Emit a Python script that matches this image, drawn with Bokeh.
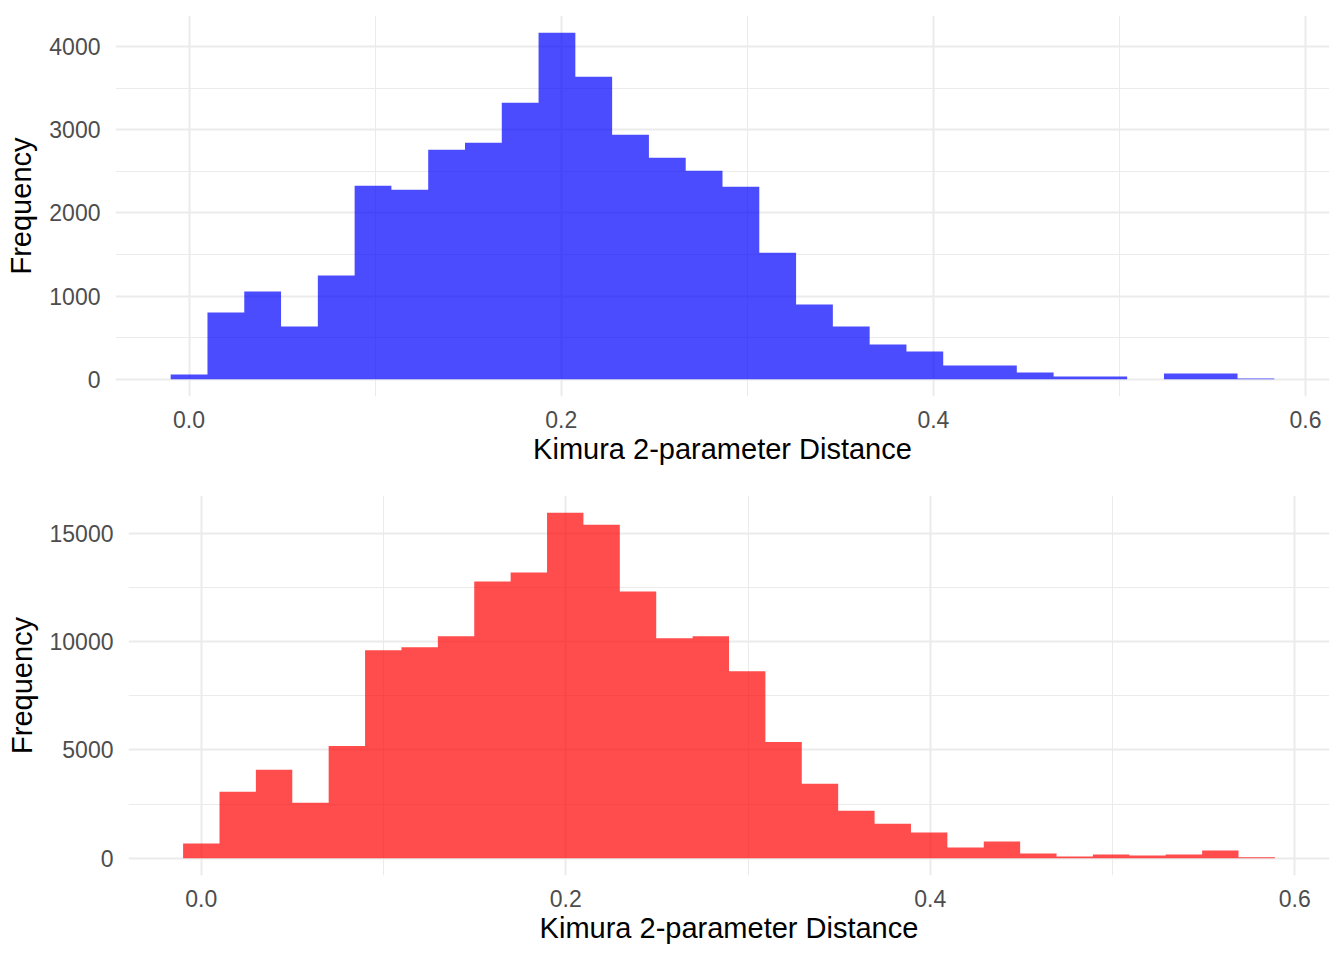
import numpy as np
from bokeh.plotting import figure
from bokeh.models import Range1d, FixedTicker, PrintfTickFormatter
from bokeh.embed import file_html
from bokeh.resources import INLINE

# ---- data ----
x_label = "Kimura 2-parameter Distance"
y_label = "Frequency"

top_bin_width = 0.01977
top_counts = [56, 801, 1053, 633, 1245, 2326, 2278, 2759, 2843, 3324,
              4164, 3636, 2940, 2663, 2507, 2314, 1521, 897, 633, 417,
              333, 164, 164, 80, 32, 32, 0, 68, 68, 8]

bottom_bin_width = 0.01997
bottom_counts = [676, 3065, 4076, 2560, 5180, 9592, 9730, 10236, 12763, 13176,
                 15933, 15380, 12305, 10143, 10236, 8626, 5363, 3433, 2192, 1595,
                 1181, 492, 768, 216, 78, 170, 124, 170, 354, 40]

x_ticks = [0.0, 0.2, 0.4, 0.6]
x_minor_ticks = [0.1, 0.3, 0.5]
top_y_ticks = [0, 1000, 2000, 3000, 4000]
top_y_minor_ticks = [500, 1500, 2500, 3500]
bottom_y_ticks = [0, 5000, 10000, 15000]
bottom_y_minor_ticks = [2500, 7500, 12500]

FONT = "Liberation Sans"
SHIFT = 25  # figure pulled left so that the empty part of the left border is off-page


def make_hist(counts, bin_width, color, y_ticks, y_minor, border_left,
              border_top, border_bottom, height):
    counts = np.asarray(counts, dtype=float)
    centers = np.arange(len(counts)) * bin_width
    left = centers - bin_width / 2
    right = centers + bin_width / 2
    lo, hi = left[0], right[-1]
    xpad = 0.05 * (hi - lo)
    ymax = counts.max()
    ypad = 0.05 * ymax

    p = figure(width=1361, height=height,
               x_range=Range1d(lo - xpad, hi + xpad),
               y_range=Range1d(-ypad, ymax + ypad),
               output_backend="svg", toolbar_location=None, title=None,
               min_border_left=border_left, min_border_right=7,
               min_border_top=border_top, min_border_bottom=border_bottom)
    p.styles = {"margin-left": f"-{SHIFT}px"}

    # histogram drawn as one stepped outline (no seams between bins)
    xs = [left[0]]
    ys = [0.0]
    for l, r, c in zip(left, right, counts):
        xs += [l, r]
        ys += [c, c]
    xs.append(right[-1])
    ys.append(0.0)
    p.patch(xs, ys, fill_color=color, fill_alpha=0.7, line_color=None)

    xt = FixedTicker(ticks=x_ticks, minor_ticks=x_minor_ticks)
    yt = FixedTicker(ticks=y_ticks, minor_ticks=y_minor)
    p.xaxis.ticker = xt
    p.yaxis.ticker = yt
    p.xgrid.ticker = xt
    p.ygrid.ticker = yt
    p.xaxis.formatter = PrintfTickFormatter(format="%.1f")
    p.yaxis.formatter = PrintfTickFormatter(format="%d")

    for g in (p.xgrid, p.ygrid):
        g.grid_line_color = "#EBEBEB"
        g.grid_line_width = 2
        g.minor_grid_line_color = "#EBEBEB"
        g.minor_grid_line_width = 1

    p.xaxis.axis_label = x_label
    p.yaxis.axis_label = y_label
    for ax in (p.xaxis, p.yaxis):
        ax.axis_line_color = None
        ax.major_tick_line_color = None
        ax.minor_tick_line_color = None
        ax.major_tick_out = 0
        ax.major_tick_in = 0
        ax.minor_tick_out = 0
        ax.minor_tick_in = 0
        ax.major_label_text_font = FONT
        ax.major_label_text_font_size = "23px"
        ax.major_label_text_color = "#4D4D4D"
        ax.axis_label_text_font = FONT
        ax.axis_label_text_font_size = "29px"
        ax.axis_label_text_font_style = "normal"
        ax.axis_label_text_color = "black"
    p.xaxis.major_label_standoff = 14
    p.xaxis.axis_label_standoff = 2
    p.yaxis.major_label_standoff = 15
    p.yaxis.axis_label_standoff = 9

    p.outline_line_color = None
    p.background_fill_color = "white"
    p.border_fill_color = "white"
    return p


p_top = make_hist(top_counts, top_bin_width, "blue", top_y_ticks, top_y_minor_ticks,
                  border_left=115 + SHIFT, border_top=15, border_bottom=74, height=470)
p_bottom = make_hist(bottom_counts, bottom_bin_width, "red", bottom_y_ticks,
                     bottom_y_minor_ticks, border_left=128 + SHIFT, border_top=25,
                     border_bottom=70, height=476)

open("out.html", "w").write(file_html([p_top, p_bottom], INLINE))
